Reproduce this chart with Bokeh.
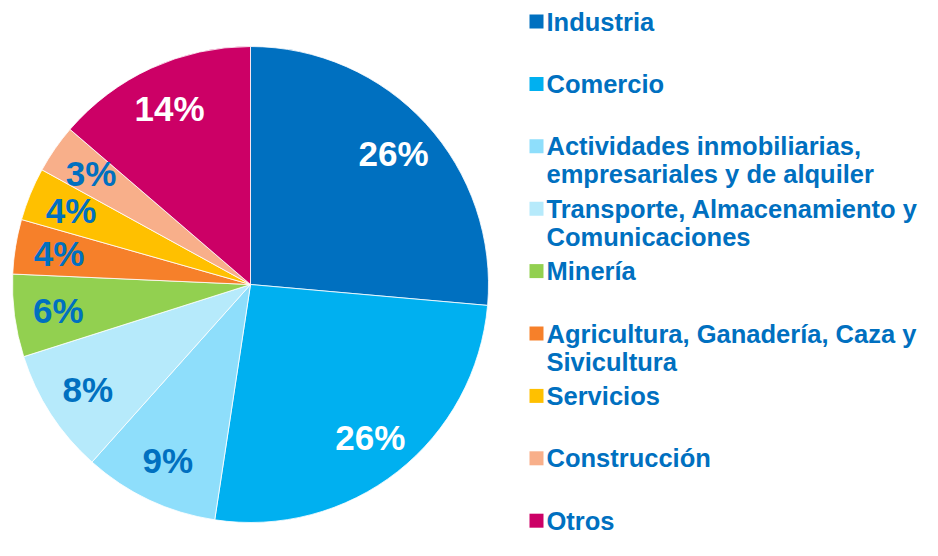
import numpy as np
from bokeh.plotting import figure
from bokeh.models import Range1d, ColumnDataSource
from bokeh.core.properties import value
from bokeh.embed import file_html
from bokeh.resources import INLINE

# ---- data ----
categories = ["Industria", "Comercio", "Actividades inmobiliarias,\nempresariales y de alquiler",
              "Transporte, Almacenamiento y\nComunicaciones", "Minería",
              "Agricultura, Ganadería, Caza y\nSivicultura", "Servicios", "Construcción", "Otros"]
shares = [26.4, 26.0, 9.2, 8.5, 5.6, 3.7, 3.6, 3.3, 13.7]
pct_labels = ["26%", "26%", "9%", "8%", "6%", "4%", "4%", "3%", "14%"]
colors = ["#0070C0", "#00B0F0", "#8EDEFB", "#B6EAFB", "#92D050",
          "#F6802A", "#FFC000", "#F8AF8A", "#CC0066"]
label_colors = ["white", "white", "#0070C0", "#0070C0", "#0070C0",
                "#0070C0", "#0070C0", "#0070C0", "white"]

W, H = 922, 540
FONT = "Liberation Sans"
TEXT_BLUE = "#0070C0"

p = figure(width=W, height=H, output_backend="svg", toolbar_location=None,
           x_range=Range1d(0, W), y_range=Range1d(0, H),
           x_axis_type=None, y_axis_type=None,
           min_border=0, min_border_left=0, min_border_right=0,
           min_border_top=0, min_border_bottom=0)
p.outline_line_color = None
p.grid.visible = False
p.background_fill_color = "white"
p.border_fill_color = "white"

# pie geometry
cx, cy, R = 250, H - 284, 238
fr = np.array(shares) / np.sum(shares)
cum_end = np.cumsum(fr)
cum_start = cum_end - fr
start = np.pi / 2 - cum_start * 2 * np.pi
end = np.pi / 2 - cum_end * 2 * np.pi
mid = (start + end) / 2

src = ColumnDataSource(dict(start=start, end=end, color=colors))
p.wedge(x=cx, y=cy, radius=R, start_angle="start", end_angle="end",
        direction="clock", fill_color="color", line_color="white",
        line_width=0.8, source=src)

rl = 0.815 * R
lsrc = ColumnDataSource(dict(x=cx + rl * np.cos(mid), y=cy + rl * np.sin(mid),
                             t=pct_labels, c=label_colors))
p.text(x="x", y="y", text="t", text_color="c", source=lsrc,
       text_font=value(FONT), text_font_style="bold", text_font_size="35px",
       text_align="center", text_baseline="middle")

# legend (manual)
row0 = H - 21
step = 62.4
sq_x, sq_size = 536, 14
tx = 546
line_h = 28
sq_xs, sq_ys, t_xs, t_ys, t_txt = [], [], [], [], []
for i, cat in enumerate(categories):
    yc = row0 - i * step
    sq_xs.append(sq_x)
    sq_ys.append(yc)
    for j, line in enumerate(cat.split("\n")):
        t_xs.append(tx)
        t_ys.append(yc - j * line_h)
        t_txt.append(line)

p.rect(x=sq_xs, y=sq_ys, width=sq_size, height=sq_size, fill_color=colors, line_color=None)
p.text(x=t_xs, y=t_ys, text=t_txt, text_color=TEXT_BLUE,
       text_font=value(FONT), text_font_style="bold", text_font_size="25.5px",
       text_align="left", text_baseline="middle")

open("out.html", "w").write(file_html(p, INLINE))
